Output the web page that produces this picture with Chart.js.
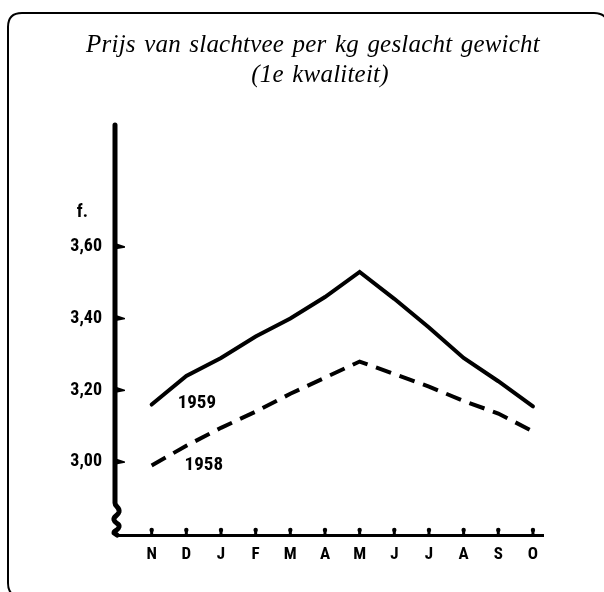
<!DOCTYPE html>
<html>
<head>
<meta charset="utf-8">
<script src="https://cdn.jsdelivr.net/npm/chart.js@4/dist/chart.umd.min.js"></script>
<style>
  html, body { margin: 0; padding: 0; background: #fff; }
  #c { display: block; }
</style>
</head>
<body>
<canvas id="c" width="604" height="592"></canvas>
<script>
// ---- data ----
const months = ['N', 'D', 'J', 'F', 'M', 'A', 'M', 'J', 'J', 'A', 'S', 'O'];
const prices1959 = [3.16, 3.24, 3.29, 3.35, 3.40, 3.46, 3.53, 3.455, 3.375, 3.29, 3.225, 3.155];
const prices1958 = [2.99, 3.045, 3.095, 3.14, 3.19, 3.235, 3.28, 3.245, 3.21, 3.17, 3.135, 3.085];
const yTickValues = [3.00, 3.20, 3.40, 3.60];
const titleLines = ['Prijs van slachtvee per kg geslacht gewicht', '(1e kwaliteit)'];
const unitLabel = 'f.';
const seriesNames = ['1959', '1958'];

const tickFont = '"Liberation Sans Narrow", "Roboto Condensed", Roboto, "Arial Narrow", sans-serif';

const toPoints = arr => arr.map((v, i) => ({ x: i, y: v }));

const decor = {
  id: 'decor',
  afterDraw(chart) {
    const ctx = chart.ctx;
    const xs = chart.scales.x, ys = chart.scales.y;
    const area = chart.chartArea;
    ctx.save();

    // frame
    ctx.strokeStyle = '#000';
    ctx.lineWidth = 2;
    ctx.beginPath();
    const fx = 8, fy = 13, fw = 600, fh = 584, r = 14;
    ctx.moveTo(fx + r, fy);
    ctx.lineTo(fx + fw - r, fy);
    ctx.quadraticCurveTo(fx + fw, fy, fx + fw, fy + r);
    ctx.moveTo(fx, fy + fh - r);
    ctx.lineTo(fx, fy + r);
    ctx.quadraticCurveTo(fx, fy, fx + r, fy);
    ctx.stroke();
    ctx.beginPath();
    ctx.moveTo(fx, fy + fh - r);
    ctx.quadraticCurveTo(fx, fy + fh, fx + r, fy + fh);
    ctx.stroke();

    // title
    ctx.fillStyle = '#000';
    ctx.textAlign = 'center';
    ctx.textBaseline = 'alphabetic';
    ctx.font = 'italic 25px "Liberation Serif", "DejaVu Serif", serif';
    try { ctx.letterSpacing = '0.2px'; ctx.wordSpacing = '2px'; } catch (e) {}
    ctx.fillText(titleLines[0], 313, 52);
    ctx.fillText(titleLines[1], 320, 82);
    try { ctx.letterSpacing = '0px'; ctx.wordSpacing = '0px'; } catch (e) {}

    // y axis line with break squiggle
    const ax = area.left;
    ctx.lineWidth = 5;
    ctx.lineCap = 'round';
    ctx.lineJoin = 'round';
    ctx.beginPath();
    ctx.moveTo(ax - 2, area.top);
    ctx.lineTo(ax - 2, 503);
    ctx.bezierCurveTo(ax - 2, 507, ax + 3, 507, ax + 2, 512);
    ctx.bezierCurveTo(ax + 1, 516, ax - 4, 516, ax - 3, 520);
    ctx.bezierCurveTo(ax - 2, 524, ax + 3, 523, ax + 2, 527);
    ctx.bezierCurveTo(ax + 1, 531, ax - 3, 530, ax - 3, 533);
    ctx.lineTo(ax, area.bottom);
    ctx.stroke();

    // y tick marks (pointing inward)
    yTickValues.forEach(v => {
      const y = ys.getPixelForValue(v);
      ctx.beginPath();
      ctx.moveTo(ax - 1, y - 3.5);
      ctx.lineTo(ax + 8, y - 0.5);
      ctx.lineTo(ax + 8, y + 0.8);
      ctx.lineTo(ax - 1, y + 2.5);
      ctx.closePath();
      ctx.fill();
    });

    // x tick marks (small bumps up)
    months.forEach((m, i) => {
      const x = xs.getPixelForValue(i);
      ctx.beginPath();
      ctx.arc(x, area.bottom - 5, 2.2, 0, Math.PI * 2);
      ctx.fill();
      ctx.fillRect(x - 1.5, area.bottom - 5, 3, 5);
    });

    // unit label
    ctx.font = 'bold 18px ' + tickFont;
    ctx.textAlign = 'right';
    ctx.textBaseline = 'middle';
    ctx.fillText(unitLabel, 88, 212);

    // series labels
    ctx.textAlign = 'left';
    ctx.font = 'bold 19px ' + tickFont;
    ctx.fillText(seriesNames[0], xs.getPixelForValue(0.75), ys.getPixelForValue(3.165));
    ctx.fillText(seriesNames[1], xs.getPixelForValue(0.95), ys.getPixelForValue(2.99));

    ctx.restore();
  }
};

new Chart(document.getElementById('c'), {
  type: 'line',
  data: {
    datasets: [
      {
        label: seriesNames[0],
        data: toPoints(prices1959),
        borderColor: '#000',
        borderWidth: 4,
        pointRadius: 0,
        tension: 0,
        fill: false,
        borderCapStyle: 'round',
        borderJoinStyle: 'miter'
      },
      {
        label: seriesNames[1],
        data: toPoints(prices1958),
        borderColor: '#000',
        borderWidth: 4,
        borderDash: [16, 9],
        pointRadius: 0,
        tension: 0,
        fill: false,
        borderCapStyle: 'butt',
        borderJoinStyle: 'miter'
      }
    ]
  },
  options: {
    responsive: false,
    animation: false,
    devicePixelRatio: 1,
    layout: { padding: { top: 125, right: 61, left: 0, bottom: 0 } },
    plugins: {
      legend: { display: false },
      title: { display: false },
      tooltip: { enabled: false }
    },
    scales: {
      x: {
        type: 'linear',
        min: -1,
        max: 11.29,
        afterFit(scale) { scale.height = 57; },
        afterBuildTicks(scale) { scale.ticks = months.map((m, i) => ({ value: i })); },
        grid: { display: false, drawTicks: false },
        border: { display: true, color: '#000', width: 3 },
        ticks: {
          autoSkip: false,
          maxRotation: 0,
          padding: 10,
          color: '#000',
          font: { family: tickFont, size: 17, weight: 'bold' },
          callback: v => months[v] ?? ''
        }
      },
      y: {
        type: 'linear',
        min: 2.796,
        max: 3.94,
        afterFit(scale) { scale.width = 117; },
        afterBuildTicks(scale) { scale.ticks = yTickValues.map(v => ({ value: v })); },
        grid: { display: false, drawTicks: false },
        border: { display: false },
        ticks: {
          padding: 15,
          color: '#000',
          font: { family: tickFont, size: 18, weight: 'bold' },
          callback: v => Number(v).toFixed(2).replace('.', ',')
        }
      }
    }
  },
  plugins: [decor]
});
</script>
</body>
</html>
